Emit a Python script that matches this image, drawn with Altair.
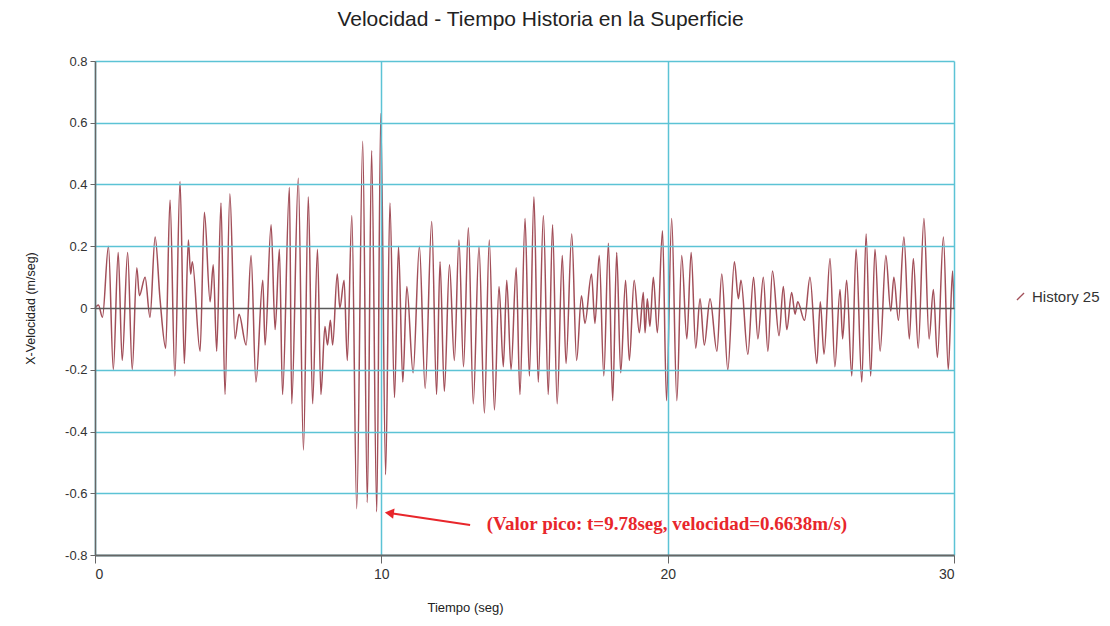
import altair as alt
import pandas as pd

# ---- data (time in s, velocity in m/s) ----
t_a = [0.00, 0.12, 0.26, 0.47, 0.64, 0.81, 0.95, 1.14, 1.30, 1.46, 1.55, 1.75, 1.92, 2.10, 2.27,
       2.47, 2.62, 2.79, 2.97, 3.12, 3.26, 3.34, 3.40, 3.67, 3.82, 4.02, 4.13, 4.25, 4.40, 4.54,
       4.71, 4.89, 5.03, 5.28, 5.45, 5.62, 5.86, 5.94, 6.15, 6.29, 6.44, 6.55, 6.79, 6.87, 7.10,
       7.28, 7.45, 7.60, 7.77, 7.89, 8.03, 8.12, 8.22, 8.30, 8.46, 8.55, 8.70, 8.81, 8.97, 9.14,
       9.35, 9.51, 9.66, 9.84, 9.98]
v_a = [0.00, 0.01, -0.03, 0.20, -0.20, 0.18, -0.17, 0.18, -0.20, 0.13, 0.04, 0.10, -0.03, 0.23, 0.03,
       -0.13, 0.35, -0.22, 0.41, -0.18, 0.22, 0.11, 0.15, -0.14, 0.31, 0.02, 0.14, -0.14, 0.34, -0.28,
       0.37, -0.10, -0.02, -0.12, 0.17, -0.24, 0.09, -0.12, 0.27, -0.07, 0.19, -0.28, 0.39, -0.31, 0.42,
       -0.46, 0.36, -0.31, 0.19, -0.28, -0.06, -0.12, -0.04, -0.12, 0.11, 0.00, 0.09, -0.17, 0.30, -0.65,
       0.54, -0.63, 0.51, -0.66, 0.63]

t_b = [10.15, 10.30, 10.46, 10.60, 10.75, 10.89, 11.11, 11.33, 11.53, 11.76, 11.93, 12.05, 12.20, 12.38, 12.55,
       12.71, 12.87, 13.04, 13.21, 13.41, 13.60, 13.77, 13.95, 14.11, 14.26, 14.38, 14.53, 14.71, 14.84, 15.02,
       15.17, 15.33, 15.48, 15.66, 15.83, 15.98, 16.14, 16.32, 16.45, 16.65, 16.82, 16.99, 17.11, 17.34, 17.46,
       17.61, 17.77, 17.93, 18.08, 18.22, 18.36, 18.53, 18.66, 18.83, 19.01, 19.15, 19.21, 19.29, 19.38, 19.50,
       19.64, 19.82, 19.96]
v_b = [-0.54, 0.34, -0.29, 0.20, -0.24, 0.07, -0.21, 0.20, -0.26, 0.28, -0.28, 0.15, -0.27, 0.14, -0.17,
       0.22, -0.19, 0.26, -0.31, 0.20, -0.34, 0.22, -0.33, 0.07, -0.19, 0.09, -0.20, 0.13, -0.28, 0.29,
       -0.22, 0.36, -0.24, 0.30, -0.28, 0.27, -0.31, 0.17, -0.18, 0.24, -0.17, 0.04, -0.05, 0.11, -0.05,
       0.17, -0.22, 0.21, -0.30, 0.18, -0.21, 0.09, -0.17, 0.09, -0.08, 0.05, -0.08, 0.03, -0.06, 0.10,
       -0.08, 0.25, -0.30]

t_c = [20.14, 20.32, 20.49, 20.67, 20.82, 20.98, 21.13, 21.28, 21.48, 21.72, 21.89, 22.10, 22.33, 22.47, 22.56,
       22.80, 23.00, 23.15, 23.34, 23.50, 23.66, 23.89, 24.04, 24.16, 24.33, 24.45, 24.54, 24.78, 24.97, 25.21,
       25.33, 25.46, 25.67, 25.84, 26.02, 26.11, 26.25, 26.43, 26.58, 26.78, 26.93, 27.09, 27.24, 27.42, 27.62,
       27.79, 27.90, 28.06, 28.25, 28.44, 28.58, 28.75, 28.95, 29.13, 29.28, 29.42, 29.63, 29.80, 29.95, 30.00]
v_c = [0.29, -0.30, 0.17, -0.10, 0.18, -0.13, 0.03, -0.12, 0.03, -0.14, 0.11, -0.20, 0.15, 0.03, 0.09,
       -0.15, 0.10, -0.10, 0.10, -0.14, 0.12, -0.09, 0.07, -0.07, 0.05, -0.02, 0.02, -0.04, 0.10, -0.18,
       0.02, -0.15, 0.16, -0.19, 0.06, -0.10, 0.09, -0.22, 0.19, -0.24, 0.24, -0.22, 0.19, -0.14, 0.17,
       -0.01, 0.10, -0.04, 0.23, -0.10, 0.16, -0.13, 0.29, -0.10, 0.06, -0.16, 0.23, -0.20, 0.12, 0.00]

assert len(t_a) == len(v_a) and len(t_b) == len(v_b) and len(t_c) == len(v_c)

series_name = "History 25"
x_ticks = [0, 10, 20, 30]
y_ticks = [-0.8, -0.6, -0.4, -0.2, 0, 0.2, 0.4, 0.6, 0.8]

# annotation (data units)
peak_label = "(Valor pico: t=9.78seg, velocidad=0.6638m/s)"
arrow_t = [13.10, 10.28]
arrow_v = [-0.703, -0.664]
arrow_tip_t = 10.28
arrow_tip_v = -0.664
label_t = 13.68
label_v = -0.70

df = pd.DataFrame({
    "t": t_a + t_b + t_c,
    "v": v_a + v_b + v_c,
    "serie": series_name,
})

LINE = "#a24f59"
GRID = "#5cc3d5"
AXIS = "#666666"
RED = "#e8262b"
FONT = "Liberation Sans"

x_scale = alt.Scale(domain=[0, 30], nice=False)
y_scale = alt.Scale(domain=[-0.8, 0.8], nice=False)

line = alt.Chart(df).mark_line(strokeWidth=1.5, interpolate="monotone").encode(
    x=alt.X("t:Q", scale=x_scale,
            axis=alt.Axis(values=x_ticks, title="Tiempo (seg)", titleX=370, titleY=46,
                          titleAlign="center", titleFontWeight="normal", titleFontSize=13,
                          titleFont=FONT, titleColor="#222", labelFont=FONT, labelFontSize=14,
                          labelColor="#333", labelPadding=4, tickSize=8, tickColor=AXIS,
                          domainColor=AXIS, domainWidth=2, gridColor=GRID, gridWidth=1.5,
                          zindex=1)),
    y=alt.Y("v:Q", scale=y_scale,
            axis=alt.Axis(values=y_ticks, title="X-Velocidad (m/seg)", titleX=-65, titleY=247,
                          titleAngle=270, titleAlign="center", titleBaseline="middle",
                          titleFontWeight="normal", titleFontSize=12.5, titleFont=FONT,
                          titleColor="#222", labelFont=FONT, labelFontSize=13, labelColor="#333",
                          labelPadding=3,
                          labelExpr="'' + round(datum.value*10)/10",
                          tickSize=5, tickColor=AXIS, domainColor=AXIS, domainWidth=1.5,
                          gridColor={"condition": {"test": "datum.value === 0", "value": "#5a5a5a"},
                                     "value": GRID},
                          gridWidth=1.5, zindex=1)),
    color=alt.Color("serie:N", scale=alt.Scale(range=[LINE]),
                    legend=alt.Legend(orient="none", legendX=918, legendY=228, title=None,
                                      symbolType="M-1,1L1,-1", symbolSize=50,
                                      symbolStrokeWidth=1.3, labelFont=FONT, labelFontSize=15,
                                      labelColor="#333")),
)

arrow_df = pd.DataFrame({"t": [arrow_t[0]], "t2": [arrow_t[1]], "v": [arrow_v[0]], "v2": [arrow_v[1]]})
arrow = alt.Chart(arrow_df).mark_rule(color=RED, strokeWidth=2).encode(
    x=alt.X("t:Q", scale=x_scale), x2="t2:Q",
    y=alt.Y("v:Q", scale=y_scale), y2="v2:Q",
)
head = alt.Chart(pd.DataFrame({"t": [arrow_tip_t], "v": [arrow_tip_v]})).mark_point(
    shape="triangle-left", filled=True, color=RED, size=110, angle=8, opacity=1
).encode(x=alt.X("t:Q", scale=x_scale), y=alt.Y("v:Q", scale=y_scale))

label = alt.Chart(pd.DataFrame({"t": [label_t], "v": [label_v], "txt": [peak_label]})).mark_text(
    align="left", baseline="middle", font="Liberation Serif", fontWeight="bold", fontSize=19,
    color=RED
).encode(x=alt.X("t:Q", scale=x_scale), y=alt.Y("v:Q", scale=y_scale), text="txt:N")

chart = alt.layer(line, arrow, head, label).properties(
    width=859,
    height=494,
    title=alt.TitleParams("Velocidad - Tiempo Historia en la Superficie", font=FONT, fontSize=21,
                          fontWeight="normal", color="#222", offset=25, dx=16),
    autosize=alt.AutoSizeParams(type="none"),
    padding={"left": 87, "top": 53, "right": 148, "bottom": 60},
).configure_view(stroke=None).configure_axis(grid=True)

chart.save("out.html", embed_options={"renderer": "svg", "actions": False})
